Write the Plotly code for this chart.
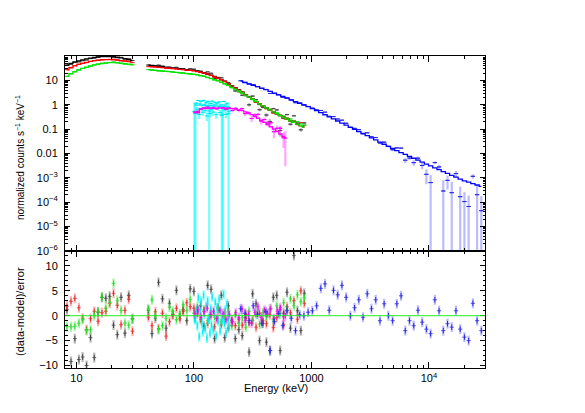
import numpy as np
import plotly.graph_objects as go

# ---------------- data ----------------
# Segment 1 (8-30 keV) shared by black / red / green instruments
seg1_energy = [8.3, 9.0, 9.7, 10.5, 11.3, 12.2, 13.2, 14.2, 15.3, 16.5,
               17.8, 19.2, 20.7, 22.3, 24.0, 25.9, 27.9, 30.0]
black1_model = [42, 50, 57, 63, 70, 76, 82, 87, 91, 94, 95, 95, 93, 89, 84, 78, 72, 66]
red1_model = [27, 33, 39, 45, 50, 55, 60, 64, 67, 70, 71, 71, 70, 68, 65, 62, 59, 56]
green1_model = [15, 19, 23, 27, 31, 35, 39, 43, 46, 49, 51, 53, 53, 52, 50, 48, 46, 44]
black1_resid = [1.2, -9.2, -4.6, -8.8, -8.3, -10.0, -4.4, -8.4, 0.7, 3.7,
                3.5, 3.9, -1.9, -3.8, 3.7, -3.5, 4.1, -0.6]
red1_resid = [1.9, 2.9, 3.5, 1.6, -0.5, -2.8, -0.6, 0.9, -1.1, 0.6,
              0.9, 2.5, 4.5, 2.1, -1.8, 1.1, 3.3, -3.1]
green1_resid = [-2.2, -2.2, -2.1, -1.5, -0.8, -3.0, -2.8, 0.0, 0.8, 3.7,
                1.5, 2.7, 6.5, 3.1, 1.1, -1.5, -1.9, -0.7]
seg1_relerr = [0.012, 0.011, 0.011, 0.01, 0.01, 0.01, 0.01, 0.01, 0.01, 0.01,
               0.01, 0.01, 0.011, 0.011, 0.012, 0.012, 0.013, 0.014]

# Segment 2 (40-900 keV) shared by black / red / green instruments
seg2_energy = [41, 44, 47, 50, 54, 58, 62, 66, 71, 76,
               81, 87, 93, 100, 107, 114, 122, 131, 140, 150,
               160, 171, 183, 196, 210, 225, 241, 258, 276, 295,
               316, 338, 362, 387, 414, 443, 474, 507, 542, 580,
               620, 663, 710, 760, 813, 870]
black2_model = [42, 41, 39.5, 38, 36.5, 35, 33.5, 32, 31, 30,
                29, 27.5, 26.5, 25.5, 24, 22.5, 20.5, 18.5, 16.5, 14.5,
                12.5, 11, 9.2, 7.4, 6.0, 5.0, 4.1, 3.3, 2.6, 2.1,
                1.7, 1.35, 1.08, 0.9, 0.74, 0.62, 0.51, 0.43, 0.36, 0.3,
                0.26, 0.22, 0.19, 0.16, 0.14, 0.12]
red2_model = [37, 36.5, 35.5, 34.5, 33.5, 32.5, 31.5, 30.5, 29.5, 28.5,
              27.5, 26.5, 25.5, 24.5, 23, 21.5, 19.8, 18, 16, 14,
              12.2, 10.7, 9.0, 7.3, 5.9, 4.9, 4.0, 3.25, 2.6, 2.1,
              1.7, 1.35, 1.08, 0.9, 0.74, 0.62, 0.51, 0.43, 0.36, 0.3,
              0.26, 0.22, 0.19, 0.16, 0.14, 0.12]
green2_model = [27.5, 26.5, 25.7, 25, 24.2, 23.5, 22.8, 22, 21.2, 20.5,
                19.8, 19, 18.3, 17.6, 16.7, 15.7, 14.5, 13.2, 11.9, 10.6,
                9.5, 8.5, 7.3, 6.2, 5.2, 4.4, 3.7, 3.05, 2.5, 2.05,
                1.68, 1.35, 1.08, 0.9, 0.74, 0.62, 0.51, 0.43, 0.36, 0.3,
                0.26, 0.22, 0.19, 0.16, 0.14, 0.12]
black2_resid = [1.1, -3.6, -0.5, 6.7, 3.4, -2.5, 2.5, 0.3, 5.1, 0.0,
                1.2, -1.0, 5.4, 4.9, 0.8, 2.0, -2.1, 6.1, 5.3, -4.6,
                1.5, 4.1, -4.4, 2.0, -0.9, -4.6, -2.8, -4.0, -0.5, -7.3,
                4.4, 2.4, -5.0, -1.5, -5.3, -7.0, 3.7, 4.1, -7.0, 0.5,
                4.7, -2.5, 12.1, 1.0, -3.0, 4.5]
red2_resid = [-0.3, -2.0, 0.8, -2.6, 0.5, -4.1, -1.2, 0.2, 1.5, -0.6,
              0.9, 2.6, 1.8, 1.5, 0.4, -0.8, 0.9, -1.5, 0.2, -2.2,
              -0.5, -1.8, 0.6, -2.5, -1.3, -2.0, -0.7, -1.9, 0.3, -1.4,
              -0.9, -2.3, 0.5, -1.0, -1.6, 0.2, -2.4, -0.4, 1.2, -1.8,
              1.8, 0.6, 3.0, -0.7, 5.0, 2.5]
green2_resid = [1.4, 3.2, 0.0, -2.8, -2.0, -0.5, 1.7, 0.9, -0.8, 0.4,
                2.2, 1.0, 3.3, 0.5, 1.8, -0.5, 1.2, -1.0, 0.7, -0.3,
                1.5, -1.2, -0.6, 0.8, -2.0, 0.2, -1.5, -0.4, -2.3, 0.9,
                -1.0, 0.3, -1.7, 0.6, -0.2, 1.3, -0.8, 2.0, 0.4, 2.6,
                1.2, 3.4, 2.0, 4.2, 2.8, 3.6]
black2_relerr = [0.015, 0.015, 0.016, 0.016, 0.017, 0.018, 0.019, 0.02, 0.021, 0.022,
                 0.023, 0.024, 0.025, 0.027, 0.028, 0.03, 0.032, 0.034, 0.036, 0.038,
                 0.04, 0.043, 0.046, 0.05, 0.053, 0.057, 0.06, 0.064, 0.068, 0.072,
                 0.076, 0.08, 0.084, 0.088, 0.092, 0.096, 0.1, 0.104, 0.108, 0.11,
                 0.11, 0.11, 0.07, 0.11, 0.11, 0.11]
rg2_relerr = [0.008, 0.008, 0.008, 0.009, 0.009, 0.009, 0.01, 0.01, 0.01, 0.011,
              0.011, 0.012, 0.012, 0.013, 0.013, 0.014, 0.015, 0.016, 0.017, 0.018,
              0.019, 0.02, 0.021, 0.022, 0.024, 0.025, 0.027, 0.029, 0.031, 0.033,
              0.035, 0.037, 0.039, 0.041, 0.043, 0.045, 0.047, 0.049, 0.051, 0.053,
              0.055, 0.057, 0.059, 0.061, 0.063, 0.065]

# Cyan instrument (100-200 keV)
cyan_energy = [101, 103, 105, 107, 109, 111, 113, 115, 117, 119,
               121, 123, 125, 127, 129, 131, 133, 135, 137, 139,
               141, 143, 146, 149, 152, 155, 158, 161, 164, 167,
               170, 173, 176, 179, 182, 185, 188, 191, 194, 197, 199]
cyan_model = [0.98, 0.98, 0.97, 0.97, 0.97, 0.96, 0.96, 0.96, 0.95, 0.95,
              0.95, 0.94, 0.94, 0.94, 0.93, 0.93, 0.93, 0.92, 0.92, 0.92,
              0.91, 0.91, 0.9, 0.9, 0.89, 0.89, 0.88, 0.88, 0.87, 0.87,
              0.86, 0.86, 0.85, 0.85, 0.84, 0.84, 0.83, 0.83, 0.82, 0.82, 0.81]
cyan_resid = [-0.6, -0.8, 1.2, -2.0, 3.6, -4.2, 0.8, 2.9, -1.5, -3.2,
              4.1, 0.3, -2.6, 1.9, -4.5, 3.0, -0.7, -0.5, -3.5, 1.4,
              -1.9, 3.8, -2.8, 0.6, 2.7, -4.0, 1.5, -1.1, 3.3, -3.0,
              0.9, -0.9, -0.7, 4.3, -1.6, 1.1, -3.4, 2.4, -0.5, -0.6, -2.2]
cyan_relerr = [0.75, 0.7, 0.15, 0.16, 0.15, 0.14, 0.16, 0.15, 0.17, 0.15,
               0.14, 0.16, 0.15, 0.15, 0.14, 0.16, 0.17, 0.8, 0.15, 0.16,
               0.15, 0.14, 0.16, 0.15, 0.15, 0.14, 0.16, 0.17, 0.15, 0.15,
               0.16, 0.65, 0.75, 0.14, 0.16, 0.15, 0.15, 0.16, 0.17, 0.8, 0.15]

# Magenta instrument (100-600 keV)
mag_energy = [102, 108, 115, 122, 130, 138, 147, 156, 166, 177,
              188, 200, 213, 227, 241, 257, 273, 291, 310, 330,
              351, 374, 398, 424, 451, 480, 511, 544, 579, 600]
mag_model = [0.47, 0.47, 0.68, 0.69, 0.70, 0.71, 0.72, 0.72, 0.73, 0.73,
             0.72, 0.71, 0.69, 0.66, 0.62, 0.57, 0.51, 0.45, 0.39, 0.33,
             0.28, 0.23, 0.19, 0.155, 0.125, 0.1, 0.08, 0.063, 0.05, 0.043]
mag_resid = [0.5, 1.2, -0.3, 0.8, 1.5, 0.2, 0.9, -0.6, 1.1, 0.4,
             -0.8, 0.3, -1.2, 0.6, -0.4, 1.3, -0.9, 0.2, -1.5, 0.7,
             1.8, -0.3, 1.1, 0.5, 1.4, -0.6, 0.9, 1.6, -0.2, 0.0]
mag_relerr = [0.12, 0.12, 0.1, 0.1, 0.1, 0.1, 0.1, 0.1, 0.11, 0.11,
              0.12, 0.12, 0.13, 0.14, 0.15, 0.16, 0.17, 0.18, 0.2, 0.22,
              0.24, 0.26, 0.28, 0.3, 0.33, 0.36, 0.4, 0.45, 0.55, 0.93]

# Blue instrument (250 keV - 30 MeV)
blue_energy = [250, 272, 295, 320, 348, 378, 410, 446, 484, 526,
               571, 620, 674, 732, 795, 863, 938, 1019, 1107, 1202,
               1306, 1418, 1541, 1674, 1818, 1975, 2145, 2330, 2531, 2750,
               2987, 3245, 3525, 3829, 4159, 4518, 4908, 5331, 5792, 6291,
               6834, 7424, 8065, 8760, 9516, 10337, 11229, 12198, 13250, 14393,
               15635, 16984, 18449, 20041, 21770, 23648, 25688, 27905]
blue_model = [9.4, 8.2, 7.2, 6.3, 5.5, 4.8, 4.15, 3.52, 3.0, 2.56,
              2.18, 1.86, 1.58, 1.35, 1.15, 0.98, 0.83, 0.70, 0.575, 0.473,
              0.388, 0.319, 0.262, 0.215, 0.177, 0.145, 0.119, 0.098, 0.080, 0.066,
              0.054, 0.044, 0.036, 0.0294, 0.024, 0.0196, 0.016, 0.01316, 0.01096, 0.00916,
              0.00764, 0.00637, 0.00531, 0.00443, 0.00369, 0.00308, 0.00258, 0.00216, 0.00181, 0.00152,
              0.00127, 0.00107, 0.00089, 0.00076, 0.00067, 0.00058, 0.00051, 0.00045]
blue_resid = [1.4, 0.5, -1.0, 2.0, 0.3, -1.5, 0.8, -7.0, -1.2, 0.4,
              -2.0, 1.0, -0.5, -3.0, 0.2, 0.0, 0.7, 1.0, 2.0, 5.5,
              6.4, 1.1, 5.1, 4.2, 6.1, 3.7, 0.0, 1.6, 3.2, -0.3,
              4.4, 1.4, 3.2, -1.0, 2.4, 0.0, -1.0, 2.4, 4.0, -3.0,
              -1.0, -2.0, 1.1, -1.3, -2.7, -3.6, 3.2, 1.0, -3.0, -1.6,
              -2.3, 1.0, -2.7, -4.3, -5.0, 2.5, -1.0, -3.0]
blue_relerr = [0.02, 0.02, 0.02, 0.022, 0.022, 0.024, 0.025, 0.025, 0.027, 0.028,
               0.03, 0.03, 0.032, 0.034, 0.035, 0.036, 0.038, 0.04, 0.04, 0.042,
               0.044, 0.046, 0.048, 0.05, 0.052, 0.055, 0.058, 0.06, 0.063, 0.066,
               0.07, 0.075, 0.08, 0.085, 0.09, 0.1, 0.11, 0.12, 0.13, 0.14,
               0.15, 0.17, 0.19, 0.21, 0.23, 0.22, 0.2, 0.3, 0.28, 0.3,
               0.35, 0.4, 0.3, 0.2, 0.18, 0.4, 0.6, 0.3]

# tick labels
x_tickvals = [10, 100, 1000, 10000]
x_ticktext = ["10", "100", "1000", "10<sup>4</sup>"]
y_tickvals = [1e-6, 1e-5, 1e-4, 1e-3, 0.01, 0.1, 1, 10]
y_ticktext = ["10<sup>\u22126</sup>", "10<sup>\u22125</sup>", "10<sup>\u22124</sup>",
              "10<sup>\u22123</sup>", "0.01", "0.1", "1", "10"]
r_tickvals = [-10, -5, 0, 5, 10]
r_ticktext = ["\u221210", "\u22125", "0", "5", "10"]

# ---------------- figure ----------------
FONT = "Liberation Sans, Arial, sans-serif"
fig = go.Figure()


def halfwidths(E):
    E = np.asarray(E, float)
    mids = np.sqrt(E[:-1] * E[1:])
    lo = np.concatenate([[E[0] ** 2 / mids[0]], mids])
    hi = np.concatenate([mids, [E[-1] ** 2 / mids[-1]]])
    return E - lo, hi - E


def add_instrument(E, model, resid, relerr, dark, light, mcolor):
    E = np.asarray(E, float)
    model = np.asarray(model, float)
    resid = np.asarray(resid, float)
    relerr = np.asarray(relerr, float)
    err = model * relerr
    data = model + resid * err
    errm = np.where(err >= data, data - 1e-8, err)
    lo, hi = halfwidths(E)
    fig.add_trace(go.Scatter(
        x=E, y=data, mode="markers", xaxis="x", yaxis="y",
        marker=dict(symbol="line-ew", size=3, color=dark, line=dict(color=dark, width=1)),
        error_y=dict(type="data", symmetric=False, array=err, arrayminus=errm,
                     color=light, thickness=2.2, width=0),
        error_x=dict(type="data", symmetric=False, array=hi, arrayminus=lo,
                     color=dark, thickness=0.8, width=0),
        hoverinfo="skip", showlegend=False))
    fig.add_trace(go.Scatter(
        x=E, y=resid, mode="markers", xaxis="x2", yaxis="y2",
        marker=dict(symbol="line-ns", size=4, color=dark, line=dict(color=dark, width=1)),
        error_y=dict(type="constant", value=1, color=light, thickness=2.2, width=0),
        error_x=dict(type="data", symmetric=False, array=hi, arrayminus=lo,
                     color=dark, thickness=0.8, width=0),
        hoverinfo="skip", showlegend=False))
    return dict(x=E, y=model, color=mcolor)


BLK = ("rgb(70,70,70)", "rgba(0,0,0,0.28)", "#000000")
RED = ("rgb(235,40,40)", "rgba(255,0,0,0.3)", "#ff0000")
GRN = ("rgb(40,220,40)", "rgba(0,230,0,0.35)", "#00e600")
CYN = ("rgb(0,230,240)", "rgba(0,255,255,0.55)", "#00e8f0")
MAG = ("rgb(240,0,240)", "rgba(255,0,255,0.35)", "#ff00ff")
BLU = ("rgb(40,40,230)", "rgba(30,30,255,0.3)", "#0000ff")

models = []
models.append(add_instrument(seg1_energy, black1_model, black1_resid, seg1_relerr, *BLK))
models.append(add_instrument(seg2_energy, black2_model, black2_resid, black2_relerr, *BLK))
models.append(add_instrument(seg1_energy, red1_model, red1_resid, seg1_relerr, *RED))
models.append(add_instrument(seg2_energy, red2_model, red2_resid, rg2_relerr, *RED))
models.append(add_instrument(seg1_energy, green1_model, green1_resid, seg1_relerr, *GRN))
models.append(add_instrument(seg2_energy, green2_model, green2_resid, rg2_relerr, *GRN))
models.append(add_instrument(cyan_energy, cyan_model, cyan_resid, cyan_relerr, *CYN))
models.append(add_instrument(mag_energy, mag_model, mag_resid, mag_relerr, *MAG))
models.append(add_instrument(blue_energy, blue_model, blue_resid, blue_relerr, *BLU))

for m in models:
    fig.add_trace(go.Scatter(x=m["x"], y=m["y"], mode="lines", xaxis="x", yaxis="y",
                             line=dict(color=m["color"], width=1.3, shape="hvh"),
                             hoverinfo="skip", showlegend=False))

# minor tick positions
x_minor = [m * 10 ** k for k in range(0, 5) for m in range(2, 10) if 8 <= m * 10 ** k <= 30000]
y_minor = [m * 10.0 ** k for k in range(-6, 2) for m in range(2, 10)]

axis_common = dict(showline=True, linecolor="black", linewidth=1, mirror="allticks",
                   ticks="inside", tickcolor="black", showgrid=False, zeroline=False,
                   automargin=False,
                   tickfont=dict(family=FONT, size=11, color="black"))

# the page body has an 8px margin, so the figure is sized to end at the window edge
W, H = 577, 405
L, R, T, B = 57, 100, 48, 45
PW, PH = W - L - R, H - T - B

xrange = [np.log10(8), np.log10(30000)]
fig.update_layout(
    width=W, height=H,
    margin=dict(l=L, r=R, t=T, b=B),
    paper_bgcolor="white", plot_bgcolor="white",
    showlegend=False,
    xaxis=dict(type="log", range=xrange, domain=[0, 1], anchor="y",
               tickmode="array", tickvals=x_tickvals, showticklabels=False, ticklen=6,
               minor=dict(ticks="inside", ticklen=3, tickvals=x_minor, tickcolor="black"),
               **axis_common),
    xaxis2=dict(type="log", range=xrange, domain=[0, 1], anchor="y2", matches="x",
                tickmode="array", tickvals=x_tickvals, ticktext=x_ticktext, ticklen=6,
                minor=dict(ticks="inside", ticklen=3, tickvals=x_minor, tickcolor="black"),
                **axis_common),
    yaxis=dict(type="log", range=[-6, 2], domain=[0.375, 1], anchor="x",
               tickmode="array", tickvals=y_tickvals, ticktext=y_ticktext, ticklen=5,
               ticklabelstandoff=4,
               minor=dict(ticks="inside", ticklen=2.5, tickvals=y_minor, tickcolor="black"),
               **axis_common),
    yaxis2=dict(range=[-10.5, 13], domain=[0, 0.375], anchor="x2",
                tickmode="array", tickvals=r_tickvals, ticktext=r_ticktext, ticklen=5,
                ticklabelstandoff=4,
                minor=dict(ticks="inside", ticklen=2.5, dtick=1, tick0=0, tickcolor="black"),
                **axis_common),
    shapes=[dict(type="line", xref="x2 domain", x0=0, x1=1, yref="y2", y0=0, y1=0,
                 line=dict(color="#22ee22", width=1), layer="above")],
    annotations=[
        dict(text="normalized counts s<sup>\u22121</sup> keV<sup>\u22121</sup>",
             xref="paper", yref="paper", x=(20 - 65) / PW, y=(368 - 158) / PH,
             textangle=-90, showarrow=False, xanchor="center", yanchor="middle",
             font=dict(family=FONT, size=10, color="black")),
        dict(text="(data-model)/error",
             xref="paper", yref="paper", x=(20 - 65) / PW, y=(368 - 312) / PH,
             textangle=-90, showarrow=False, xanchor="center", yanchor="middle",
             font=dict(family=FONT, size=11, color="black")),
        dict(text="Energy (keV)",
             xref="paper", yref="paper", x=(276 - 65) / PW, y=(368 - 388) / PH,
             showarrow=False, xanchor="center", yanchor="middle",
             font=dict(family=FONT, size=11, color="black")),
    ],
)

fig.write_html("out.html")
